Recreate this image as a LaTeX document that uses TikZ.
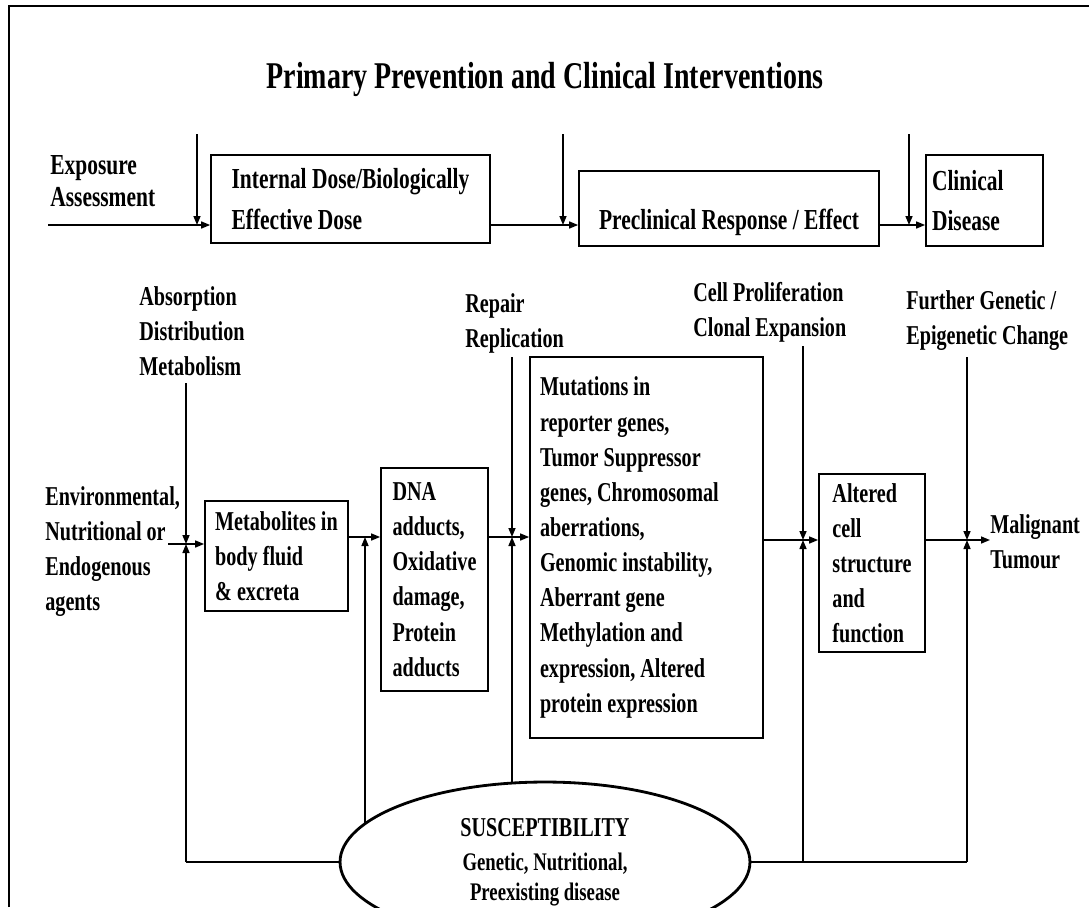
\documentclass[tikz,border=0pt]{standalone}
\usepackage{fontspec}
\newfontfamily\figfont{Liberation Serif}[FakeStretch=0.74]
\usetikzlibrary{arrows.meta, shapes.geometric, backgrounds}

\begin{document}
\begin{tikzpicture}[
    x=0.02cm, y=-0.02cm,
    every node/.style={font=\figfont\bfseries\fontsize{15.5}{20}\selectfont, inner sep=0pt},
    box/.style={draw=black, line width=1pt, align=left},
    txt/.style={anchor=north west, align=left},
    conn/.style={draw=black, line width=0.85pt, -{Triangle[length=1.8mm, width=1.4mm]}},
    feed/.style={draw=black, line width=1.4pt}
]
\useasboundingbox (0,0) rectangle (1089,907);

% Frame
\draw[line width=1.1pt] (9,907) -- (9,6) -- (1089,6);

% Title
\node[anchor=base, font=\figfont\bfseries\fontsize{21.5}{26}\selectfont] (title) at (545,88) {Primary Prevention and Clinical Interventions};

% Top row
\node[txt, font=\figfont\bfseries\fontsize{16.5}{18.1}\selectfont] (expo) at (50,155) {Exposure\\Assessment};
\node[box, minimum width=5.58cm, minimum height=1.76cm, font=\figfont\bfseries\fontsize{16.5}{23.8}\selectfont] (dose) at (350.5,199) {Internal Dose/Biologically\\Effective Dose};
\node[box, minimum width=6cm, minimum height=1.5cm, text height=0.92cm, text depth=0.1cm, font=\figfont\bfseries\fontsize{16.5}{18}\selectfont] (pre) at (729,208.5) {Preclinical Response / Effect};
\node[box, minimum width=2.34cm, minimum height=1.82cm, text width=2.1cm, align=flush left, font=\figfont\bfseries\fontsize{16.5}{22.7}\selectfont] (clin) at (984.5,200.5) {Clinical\\Disease};

% Process labels
\node[txt] (absorb) at (139,286) {Absorption\\Distribution\\Metabolism};
\node[txt] (repair) at (465,293) {Repair\\Replication};
\node[txt] (prolif) at (693,282) {Cell Proliferation\\Clonal Expansion};
\node[txt] (further) at (906,290) {Further Genetic /\\Epigenetic Change};

% Middle row
\node[txt] (agents) at (45,486) {Environmental,\\Nutritional or\\Endogenous\\agents};
\node[box, minimum width=2.86cm, minimum height=2.2cm] (metab) at (276.5,556) {Metabolites in\\body fluid\\\& excreta};
\node[box, minimum width=2.14cm, minimum height=4.46cm] (dna) at (434.5,579.5) {DNA\\adducts,\\Oxidative\\damage,\\Protein\\adducts};
\node[box, minimum width=4.66cm, minimum height=7.62cm, text width=4.26cm, align=flush left] (mut) at (646.5,547.5) {Mutations in\\reporter genes,\\Tumor Suppressor\\genes, Chromosomal\\aberrations,\\Genomic instability,\\Aberrant gene\\Methylation and\\expression, Altered\\protein expression};
\node[box, minimum width=2.12cm, minimum height=3.56cm] (alt) at (872,563) {Altered\\cell\\structure\\and\\function};
\node[txt] (tumour) at (990,514) {Malignant\\Tumour};

% Susceptibility
\node[ellipse, draw=black, fill=white, line width=1.6pt, minimum width=8.2cm, minimum height=3.2cm, align=center, font=\figfont\bfseries\fontsize{14.4}{17}\selectfont] (sus) at (545,862) {{\fontsize{15.5}{18}\selectfont SUSCEPTIBILITY}\\[2.3pt]Genetic, Nutritional,\\Preexisting disease};

% Free ends
\coordinate (e0) at (48,225);
\coordinate (t1) at (197,134);
\coordinate (t2) at (563,134);
\coordinate (t3) at (909,134);
\coordinate (lv0) at (168,544);
\coordinate (lv1) at (0,537);
\coordinate (lv2) at (0,540);
\coordinate (v1) at (186,383);
\coordinate (v2) at (365,862);
\coordinate (v3) at (512,357);
\coordinate (v4) at (803,346);
\coordinate (v5) at (967,357);

% Top arrows
\draw[conn] (e0) -- (e0 -| dose.west);
\draw[conn] (t1) -- (t1 |- e0);
\draw[conn] (dose.east |- e0) -- (e0 -| pre.west);
\draw[conn] (t2) -- (t2 |- e0);
\draw[conn] (pre.east |- e0) -- (e0 -| clin.west);
\draw[conn] (t3) -- (t3 |- e0);

% Middle arrows
\draw[conn] (lv0) -- (lv0 -| metab.west);
\draw[conn] (v1) -- (v1 |- lv0);
\draw[conn] (metab.east |- lv1) -- (lv1 -| dna.west);
\draw[conn] (dna.east |- lv1) -- (lv1 -| mut.west);
\draw[conn] (v3) -- (v3 |- lv1);
\draw[conn] (mut.east |- lv2) -- (lv2 -| alt.west);
\draw[conn] (v4) -- (v4 |- lv2);
\draw[conn] (alt.east |- lv2) -- (lv2 -| tumour.west);
\draw[conn] (v5) -- (v5 |- lv2);

% Feedback from susceptibility
\begin{scope}[on background layer]
\draw[feed] (v1 |- sus) -- (v5 |- sus);
\draw[conn] (v1 |- sus) -- (v1 |- lv0);
\draw[conn] (v2 |- sus) -- (v2 |- lv1);
\draw[conn] (v3 |- sus) -- (v3 |- lv1);
\draw[conn] (v4 |- sus) -- (v4 |- lv2);
\draw[conn] (v5 |- sus) -- (v5 |- lv2);
\end{scope}

\end{tikzpicture}
\end{document}
